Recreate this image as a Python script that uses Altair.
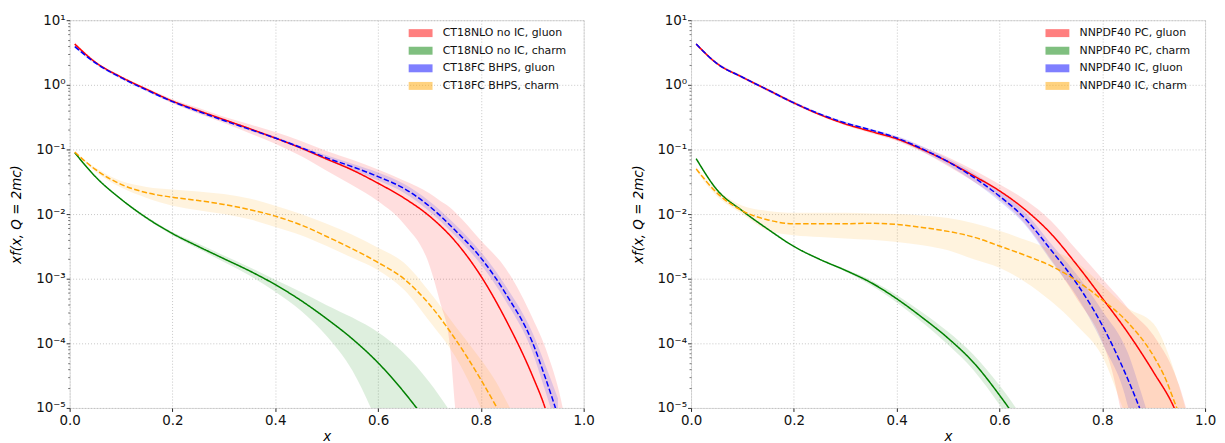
import altair as alt
import pandas as pd

# ---------------- left panel (CT18) ----------------
L_NAMES = ["CT18NLO no IC, gluon", "CT18NLO no IC, charm", "CT18FC BHPS, gluon", "CT18FC BHPS, charm"]

L_G_NOIC_X = [0.01, 0.05, 0.1, 0.15, 0.2, 0.25, 0.3, 0.35, 0.4, 0.45, 0.5, 0.55, 0.6, 0.65, 0.7, 0.75, 0.8, 0.85, 0.9, 0.925, 0.95]
L_G_NOIC_Y = [4.27, 2.24, 1.32, 0.85, 0.56, 0.40, 0.29, 0.21, 0.15, 0.105, 0.071, 0.048, 0.030, 0.0178, 0.0093, 0.0038, 0.0011, 2.2e-4, 3.2e-5, 1.0e-5, 2.0e-6]
L_G_NOIC_BX = [0.01, 0.05, 0.1, 0.15, 0.2, 0.25, 0.3, 0.35, 0.4, 0.45, 0.5, 0.55, 0.6, 0.65, 0.7, 0.72, 0.74, 0.75, 0.8, 0.85, 0.9, 0.93, 0.96, 0.97]
L_G_NOIC_HI = [4.57, 2.34, 1.38, 0.89, 0.60, 0.44, 0.32, 0.245, 0.186, 0.135, 0.095, 0.069, 0.049, 0.033, 0.021, 0.0162, 0.0126, 0.0107, 0.0039, 0.00138, 2.5e-4, 6.8e-5, 9.3e-6, 3.2e-6]
L_G_NOIC_LO = [3.98, 2.14, 1.26, 0.81, 0.52, 0.36, 0.257, 0.178, 0.123, 0.079, 0.047, 0.028, 0.0158, 0.0071, 0.0016, 4.5e-4, 8.9e-5, 1.0e-5, 1e-7, 1e-7, 1e-7, 1e-7, 1e-7, 1e-7]

L_C_NOIC_X = [0.01, 0.05, 0.1, 0.15, 0.2, 0.25, 0.3, 0.35, 0.4, 0.45, 0.5, 0.55, 0.6, 0.65, 0.68, 0.7]
L_C_NOIC_Y = [0.089, 0.038, 0.017, 0.0087, 0.0050, 0.00316, 0.00204, 0.00132, 8.1e-4, 4.6e-4, 2.4e-4, 1.17e-4, 5.0e-5, 1.78e-5, 8.9e-6, 5.6e-6]
L_C_NOIC_BX = [0.01, 0.05, 0.1, 0.15, 0.2, 0.25, 0.3, 0.35, 0.4, 0.45, 0.5, 0.55, 0.6, 0.65, 0.7, 0.74]
L_C_NOIC_HI = [0.091, 0.0389, 0.0174, 0.0091, 0.0053, 0.0035, 0.00229, 0.00151, 9.6e-4, 6.2e-4, 3.9e-4, 2.5e-4, 1.48e-4, 7.1e-5, 2.5e-5, 8.9e-6]
L_C_NOIC_LO = [0.087, 0.0372, 0.0166, 0.0083, 0.0047, 0.0029, 0.00182, 0.00112, 6.3e-4, 3.2e-4, 1.3e-4, 3.8e-5, 5.6e-6, 6.3e-7, 1e-7, 3e-8]

L_G_FC_X = [0.01, 0.05, 0.1, 0.15, 0.2, 0.25, 0.3, 0.35, 0.4, 0.45, 0.5, 0.55, 0.6, 0.65, 0.7, 0.75, 0.8, 0.85, 0.9, 0.925, 0.95]
L_G_FC_Y = [3.9, 2.19, 1.29, 0.83, 0.55, 0.39, 0.28, 0.205, 0.15, 0.107, 0.074, 0.054, 0.038, 0.025, 0.0132, 0.0056, 0.0021, 5.6e-4, 1.05e-4, 3.0e-5, 7.6e-6]
L_G_FC_HI = [4.07, 2.29, 1.35, 0.87, 0.575, 0.41, 0.295, 0.214, 0.158, 0.112, 0.081, 0.060, 0.044, 0.0295, 0.0158, 0.0069, 0.0026, 7.4e-4, 1.48e-4, 4.7e-5, 1.4e-5]
L_G_FC_LO = [3.72, 2.09, 1.23, 0.79, 0.525, 0.37, 0.27, 0.195, 0.145, 0.102, 0.068, 0.048, 0.033, 0.0214, 0.011, 0.0046, 0.00166, 4.3e-4, 7.4e-5, 1.86e-5, 4.3e-6]

L_C_FC_X = [0.01, 0.05, 0.1, 0.15, 0.2, 0.25, 0.3, 0.35, 0.4, 0.45, 0.5, 0.55, 0.6, 0.65, 0.7, 0.75, 0.8, 0.83, 0.85]
L_C_FC_Y = [0.091, 0.049, 0.0288, 0.0214, 0.0182, 0.0162, 0.0141, 0.0117, 0.0093, 0.0068, 0.0045, 0.0029, 0.00178, 0.0010, 4.0e-4, 1.17e-4, 2.75e-5, 1.05e-5, 5.4e-6]
L_C_FC_BX = [0.01, 0.05, 0.1, 0.15, 0.2, 0.25, 0.3, 0.35, 0.4, 0.45, 0.5, 0.55, 0.6, 0.65, 0.7, 0.75, 0.8, 0.83, 0.85, 0.87]
L_C_FC_HI = [0.093, 0.0525, 0.0324, 0.0263, 0.024, 0.0224, 0.0204, 0.0174, 0.0135, 0.010, 0.0071, 0.0048, 0.0030, 0.00178, 6.3e-4, 1.86e-4, 5.6e-5, 2.5e-5, 1.26e-5, 6.3e-6]
L_C_FC_LO = [0.089, 0.0457, 0.0257, 0.0178, 0.0135, 0.0115, 0.010, 0.0083, 0.0063, 0.0047, 0.0032, 0.0021, 0.00135, 6.8e-4, 2.2e-4, 6.3e-5, 1.0e-5, 2.5e-6, 1e-6, 3e-7]

# ---------------- right panel (NNPDF40) ----------------
R_NAMES = ["NNPDF40 PC, gluon", "NNPDF40 PC, charm", "NNPDF40 IC, gluon", "NNPDF40 IC, charm"]

R_G_PC_X = [0.01, 0.05, 0.1, 0.15, 0.2, 0.25, 0.3, 0.35, 0.4, 0.45, 0.5, 0.55, 0.6, 0.65, 0.7, 0.75, 0.8, 0.85, 0.9, 0.94, 0.96]
R_G_PC_Y = [4.27, 2.15, 1.31, 0.83, 0.525, 0.347, 0.248, 0.19, 0.146, 0.10, 0.0646, 0.039, 0.0229, 0.0117, 0.0050, 0.00166, 5.0e-4, 1.45e-4, 3.55e-5, 1.0e-5, 4.0e-6]
R_G_PC_BX = [0.01, 0.05, 0.1, 0.15, 0.2, 0.25, 0.3, 0.35, 0.4, 0.45, 0.5, 0.55, 0.6, 0.65, 0.7, 0.75, 0.8, 0.82, 0.84, 0.85, 0.9, 0.95, 0.97]
R_G_PC_HI = [4.47, 2.25, 1.37, 0.87, 0.55, 0.363, 0.263, 0.204, 0.158, 0.11, 0.076, 0.048, 0.029, 0.0166, 0.0079, 0.0028, 0.0010, 6.6e-4, 4.4e-4, 3.5e-4, 1.32e-4, 2.2e-5, 6.3e-6]
R_G_PC_LO = [4.07, 2.06, 1.25, 0.79, 0.50, 0.331, 0.234, 0.178, 0.135, 0.091, 0.055, 0.0316, 0.017, 0.0071, 0.0020, 5.0e-4, 1.07e-4, 3.5e-5, 6.3e-6, 2.5e-6, 1e-7, 1e-7, 1e-7]

R_C_PC_X = [0.01, 0.05, 0.1, 0.15, 0.2, 0.25, 0.3, 0.35, 0.4, 0.45, 0.5, 0.55, 0.6, 0.62, 0.65]
R_C_PC_Y = [0.072, 0.024, 0.0112, 0.0058, 0.00316, 0.0020, 0.00135, 8.7e-4, 4.9e-4, 2.5e-4, 1.2e-4, 5.0e-5, 1.58e-5, 9.5e-6, 4.0e-6]
R_C_PC_HI = [0.074, 0.0245, 0.0115, 0.0059, 0.00324, 0.00204, 0.00141, 9.5e-4, 5.6e-4, 3.0e-4, 1.51e-4, 6.6e-5, 2.24e-5, 1.38e-5, 6.0e-6]
R_C_PC_LO = [0.0708, 0.0234, 0.011, 0.0056, 0.0031, 0.00195, 0.00129, 7.9e-4, 4.3e-4, 2.1e-4, 9.5e-5, 3.8e-5, 1.12e-5, 6.6e-6, 2.6e-6]

R_G_IC_X = [0.01, 0.05, 0.1, 0.15, 0.2, 0.25, 0.3, 0.35, 0.4, 0.45, 0.5, 0.55, 0.6, 0.65, 0.7, 0.75, 0.8, 0.85, 0.875, 0.9]
R_G_IC_Y = [4.27, 2.15, 1.31, 0.83, 0.525, 0.355, 0.257, 0.20, 0.151, 0.102, 0.0646, 0.037, 0.019, 0.0085, 0.0028, 8.5e-4, 1.9e-4, 2.75e-5, 8.9e-6, 2.5e-6]
R_G_IC_HI = [4.47, 2.25, 1.37, 0.87, 0.55, 0.37, 0.27, 0.209, 0.162, 0.112, 0.072, 0.043, 0.023, 0.0107, 0.0035, 0.00117, 3.2e-4, 7.1e-5, 1.8e-5, 4.0e-6]
R_G_IC_LO = [4.07, 2.06, 1.25, 0.79, 0.50, 0.339, 0.245, 0.19, 0.141, 0.093, 0.0575, 0.0316, 0.0158, 0.0068, 0.0019, 5.4e-4, 1.0e-4, 1.05e-5, 1e-6, 1e-7]

R_C_IC_X = [0.01, 0.05, 0.1, 0.15, 0.2, 0.25, 0.3, 0.35, 0.4, 0.45, 0.5, 0.55, 0.6, 0.65, 0.7, 0.75, 0.8, 0.85, 0.9, 0.92, 0.945, 0.97]
R_C_IC_Y = [0.050, 0.0214, 0.0112, 0.0081, 0.0071, 0.0071, 0.0071, 0.0072, 0.0069, 0.0062, 0.0054, 0.0044, 0.0032, 0.0023, 0.00158, 9.3e-4, 4.7e-4, 2.1e-4, 6.3e-5, 3.2e-5, 1.0e-5, 3.2e-6]
R_C_IC_BX = [0.01, 0.05, 0.1, 0.15, 0.2, 0.25, 0.3, 0.35, 0.4, 0.45, 0.5, 0.55, 0.6, 0.65, 0.7, 0.75, 0.8, 0.85, 0.9, 0.945, 0.97]
R_C_IC_HI = [0.0537, 0.024, 0.0135, 0.0112, 0.0105, 0.0105, 0.0105, 0.0102, 0.010, 0.0095, 0.0087, 0.0072, 0.0055, 0.0040, 0.0028, 0.00178, 7.9e-4, 3.5e-4, 2.0e-4, 2.8e-5, 5.6e-6]
R_C_IC_LO = [0.047, 0.019, 0.010, 0.0055, 0.0047, 0.0044, 0.0042, 0.0040, 0.0037, 0.0033, 0.00275, 0.0020, 0.00148, 8.9e-4, 4.5e-4, 1.9e-4, 6.3e-5, 6.3e-6, 1e-6, 1e-7, 1e-8]

COLORS = ["#ff0000", "#008000", "#0000ff", "#ffa500"]
DASHES = ["solid", "solid", "dashed", "dashed"]

Y_TICKS = [m * 10.0 ** k for k in range(-5, 1) for m in range(1, 10)] + [10.0]
X_TICKS = [0.0, 0.2, 0.4, 0.6, 0.8, 1.0]

FONT = "DejaVu Sans"
IS_DECADE = "abs(log(datum.value)/LN10 - round(log(datum.value)/LN10)) < 0.001"
SUP = "['\u207b\u2075','\u207b\u2074','\u207b\u00b3','\u207b\u00b2','\u207b\u00b9','\u2070','\u00b9']"
Y_LABEL = f"{IS_DECADE} ? '10' + {SUP}[round(log(datum.value)/LN10) + 5] : ''"


def lines_df(names, xs, ys):
    rows = []
    for i, (name, x, y) in enumerate(zip(names, xs, ys)):
        for a, b in zip(x, y):
            rows.append({"x": a, "y": b, "series": name, "dash": DASHES[i]})
    return pd.DataFrame(rows)


def bands_df(names, xs, los, his):
    rows = []
    for name, x, lo, hi in zip(names, xs, los, his):
        for a, l, h in zip(x, lo, hi):
            rows.append({"x": a, "lo": l, "hi": h, "series": name})
    return pd.DataFrame(rows)


def panel(names, lines, bands, legend_x):
    x_enc = alt.X(
        "x:Q",
        scale=alt.Scale(domain=[0, 1], nice=False, zero=False),
        axis=alt.Axis(
            values=X_TICKS, format=".1f", title="x", titleFontStyle="italic",
            titleFontWeight="normal", titleFontSize=13.5, titlePadding=3,
            labelFontSize=13.5, labelPadding=2, tickSize=3.5, tickColor="#222",
            labelColor="#111", domain=False, grid=True, gridColor="#b8b8b8",
            gridDash=[1, 2], gridWidth=0.8, labelFont=FONT, titleFont=FONT,
            labelFlush=False,
        ),
    )
    y_scale = alt.Scale(type="log", domain=[1e-5, 10], nice=False)
    y_axis = alt.Axis(
        values=Y_TICKS, labelExpr=Y_LABEL, title="xf(x, Q = 2mc)",
        titleFontStyle="italic", titleFontWeight="normal", titleFontSize=13.5,
        titlePadding=12, labelFontSize=13.5, labelPadding=1, labelFont=FONT,
        titleFont=FONT, labelColor="#111", domain=False, labelFlush=False,
        labelOverlap=False,
        tickSize={"condition": {"test": IS_DECADE, "value": 3.5}, "value": 2},
        tickWidth={"condition": {"test": IS_DECADE, "value": 0.9}, "value": 0.6},
        tickColor="#222", grid=True, gridColor="#b8b8b8", gridDash=[1, 2],
        gridWidth=0.8,
        gridOpacity={"condition": {"test": IS_DECADE, "value": 1}, "value": 0},
    )
    band_layer = alt.Chart(bands).mark_area(
        opacity=0.13, clip=True, interpolate="monotone"
    ).encode(
        x=x_enc,
        y=alt.Y("lo:Q", scale=y_scale, axis=y_axis),
        y2="hi:Q",
        color=alt.Color(
            "series:N",
            scale=alt.Scale(domain=names, range=COLORS),
            legend=alt.Legend(
                title=None, orient="none", legendX=legend_x, legendY=7.5,
                symbolType="M-3,-1H3V1H-3Z", symbolSize=64,
                symbolOpacity=0.5, symbolStrokeWidth=0, labelFontSize=11,
                labelFont=FONT, labelColor="#111", rowPadding=5.7,
                labelOffset=16.7, padding=0, labelLimit=300,
            ),
        ),
    )
    line_layer = alt.Chart(lines).mark_line(
        clip=True, interpolate="monotone", strokeWidth=1.5
    ).encode(
        x=x_enc,
        y=alt.Y("y:Q", scale=y_scale, axis=y_axis),
        stroke=alt.Stroke("series:N", scale=alt.Scale(domain=names, range=COLORS), legend=None),
        strokeDash=alt.StrokeDash(
            "dash:N",
            scale=alt.Scale(domain=["solid", "dashed"], range=[[1, 0], [5.5, 2.4]]),
            legend=None,
        ),
        detail="series:N",
    )
    return alt.layer(band_layer, line_layer).properties(width=517, height=390)


left = panel(
    L_NAMES,
    lines_df(L_NAMES, [L_G_NOIC_X, L_C_NOIC_X, L_G_FC_X, L_C_FC_X],
             [L_G_NOIC_Y, L_C_NOIC_Y, L_G_FC_Y, L_C_FC_Y]),
    bands_df(L_NAMES, [L_G_NOIC_BX, L_C_NOIC_BX, L_G_FC_X, L_C_FC_BX],
             [L_G_NOIC_LO, L_C_NOIC_LO, L_G_FC_LO, L_C_FC_LO],
             [L_G_NOIC_HI, L_C_NOIC_HI, L_G_FC_HI, L_C_FC_HI]),
    347.5,
)
right = panel(
    R_NAMES,
    lines_df(R_NAMES, [R_G_PC_X, R_C_PC_X, R_G_IC_X, R_C_IC_X],
             [R_G_PC_Y, R_C_PC_Y, R_G_IC_Y, R_C_IC_Y]),
    bands_df(R_NAMES, [R_G_PC_BX, R_C_PC_X, R_G_IC_X, R_C_IC_BX],
             [R_G_PC_LO, R_C_PC_LO, R_G_IC_LO, R_C_IC_LO],
             [R_G_PC_HI, R_C_PC_HI, R_G_IC_HI, R_C_IC_HI]),
    363,
)

chart = alt.hconcat(left, right, spacing=35).resolve_scale(
    color="independent", stroke="independent", strokeDash="independent"
).properties(
    padding={"left": 1, "top": 3, "right": 0, "bottom": 0}
).configure_view(
    stroke="#333", strokeWidth=1
).configure(background="white")

chart.save("out.html", embed_options={"renderer": "svg", "actions": False})
